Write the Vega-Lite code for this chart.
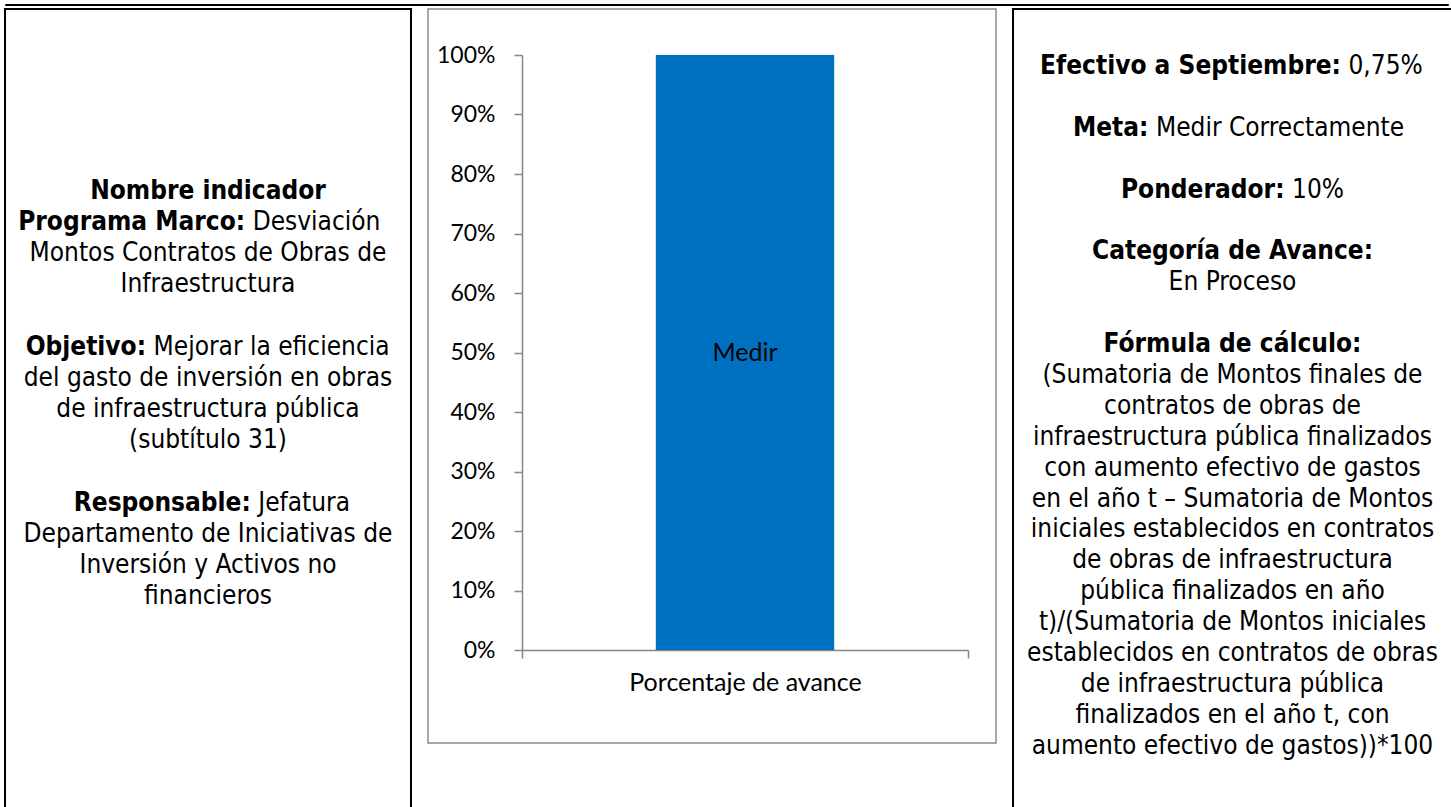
{
  "$schema": "https://vega.github.io/schema/vega-lite/v6.json",
  "padding": {"left": 4, "top": 1, "right": 4, "bottom": 0},
  "background": "white",
  "config": {"view": {"stroke": null}},
  "spacing": 0,
  "vconcat": [
    {
      "width": 1443,
      "height": 1,
      "view": {"stroke": "black", "strokeWidth": 1},
      "data": {"values": [{"k": 1}]},
      "mark": {"type": "point", "opacity": 0}
    },
    {
      "spacing": 15,
      "hconcat": [
        {
          "width": 406,
          "height": 804,
          "view": {"stroke": "black", "strokeWidth": 2},
          "data": {
            "values": [
              {"line": 0, "b": "Nombre indicador", "r": ""},
              {"line": 1, "b": "Programa Marco:", "r": "Desviación"},
              {"line": 2, "b": "", "r": "Montos Contratos de Obras de"},
              {"line": 3, "b": "", "r": "Infraestructura"},
              {"line": 5, "b": "Objetivo:", "r": "Mejorar la eficiencia"},
              {"line": 6, "b": "", "r": "del gasto de inversión en obras"},
              {"line": 7, "b": "", "r": "de infraestructura pública"},
              {"line": 8, "b": "", "r": "(subtítulo 31)"},
              {"line": 10, "b": "Responsable:", "r": "Jefatura"},
              {"line": 11, "b": "", "r": "Departamento de Iniciativas de"},
              {"line": 12, "b": "", "r": "Inversión y Activos no"},
              {"line": 13, "b": "", "r": "financieros"}
            ]
          },
          "transform": [
            {"calculate": "17.2*(0.5*length(datum.b) + 0.5*length(replace(datum.b, regexp('[ilfjtr:,.() ]','g'), '')))", "as": "wb"},
            {"calculate": "14.8*(0.5*length(datum.r) + 0.5*length(replace(datum.r, regexp('[ilfjtr:,.() ]','g'), ''))) + 2.5*(length(datum.r) - length(replace(datum.r, regexp('[0-9%]','g'), '')))", "as": "wr"},
            {"calculate": "(datum.wb - datum.wr - 7.5)/2", "as": "bx"},
            {"calculate": "datum.bx + 7.5", "as": "rx"}
          ],
          "encoding": {
            "y": {"field": "line", "type": "quantitative", "scale": {"domain": [-5.843, 19.968], "reverse": true}, "axis": null}
          },
          "layer": [
            {
              "transform": [{"filter": "datum.r === ''"}],
              "mark": {"type": "text", "font": "DejaVu Sans Condensed, DejaVu Sans", "fontSize": 26, "fontWeight": "bold", "color": "black", "align": "center", "baseline": "middle"},
              "encoding": {"x": {"datum": 0, "type": "quantitative", "scale": {"domain": [-203, 203]}, "axis": null}, "text": {"field": "b"}}
            },
            {
              "transform": [{"filter": "datum.b === ''"}],
              "mark": {"type": "text", "font": "DejaVu Sans Condensed, DejaVu Sans", "fontSize": 26, "color": "black", "align": "center", "baseline": "middle"},
              "encoding": {"x": {"datum": 0, "type": "quantitative", "scale": {"domain": [-203, 203]}, "axis": null}, "text": {"field": "r"}}
            },
            {
              "transform": [{"filter": "datum.b !== '' && datum.r !== ''"}],
              "mark": {"type": "text", "font": "DejaVu Sans Condensed, DejaVu Sans", "fontSize": 26, "fontWeight": "bold", "color": "black", "align": "right", "baseline": "middle"},
              "encoding": {"x": {"field": "bx", "type": "quantitative", "scale": {"domain": [-203, 203]}, "axis": null}, "text": {"field": "b"}}
            },
            {
              "transform": [{"filter": "datum.b !== '' && datum.r !== ''"}],
              "mark": {"type": "text", "font": "DejaVu Sans Condensed, DejaVu Sans", "fontSize": 26, "color": "black", "align": "left", "baseline": "middle"},
              "encoding": {"x": {"field": "rx", "type": "quantitative", "scale": {"domain": [-203, 203]}, "axis": null}, "text": {"field": "r"}}
            }
          ]
        },
        {
          "width": 568,
          "height": 734,
          "view": {"stroke": "#8c8c8c", "strokeWidth": 1.5},
          "data": {"values": [{"cat": "Porcentaje de avance", "value": 1, "label": "Medir"}]},
          "transform": [{"calculate": "datum.value / 2", "as": "mid"}],
          "encoding": {
            "x": {
              "field": "cat",
              "type": "nominal",
              "scale": {"range": [94, 540], "paddingInner": 0, "paddingOuter": 0},
              "axis": {
                "orient": "bottom",
                "offset": -93,
                "title": null,
                "tickBand": "extent",
                "labelAngle": 0,
                "labelFont": "Lato",
                "labelFontSize": 25,
                "labelColor": "black",
                "labelPadding": 12,
                "labelLimit": 500,
                "domainColor": "#868686",
                "domainWidth": 1.5,
                "tickColor": "#868686",
                "tickWidth": 1.5,
                "tickSize": 8
              }
            }
          },
          "layer": [
            {
              "mark": {"type": "bar", "color": "#0070C0", "width": {"band": 0.4}},
              "encoding": {
                "y": {
                  "field": "value",
                  "type": "quantitative",
                  "scale": {"domain": [0, 1], "range": [641, 46]},
                  "axis": {
                    "orient": "left",
                    "offset": -94,
                    "title": null,
                    "grid": false,
                    "values": [0, 0.1, 0.2, 0.3, 0.4, 0.5, 0.6, 0.7, 0.8, 0.9, 1],
                    "format": ".0%",
                    "labelFont": "Lato",
                    "labelFontSize": 23,
                    "labelColor": "black",
                    "labelPadding": 19,
                    "domainColor": "#868686",
                    "domainWidth": 1.5,
                    "tickColor": "#868686",
                    "tickWidth": 1.5,
                    "tickSize": 8
                  }
                }
              }
            },
            {
              "mark": {"type": "text", "font": "Lato", "fontSize": 25, "color": "black", "baseline": "middle", "align": "center"},
              "encoding": {
                "y": {"field": "mid", "type": "quantitative"},
                "text": {"field": "label"}
              }
            }
          ]
        },
        {
          "width": 439,
          "height": 804,
          "view": {"stroke": "black", "strokeWidth": 2},
          "data": {
            "values": [
              {"line": 0, "b": "Efectivo a Septiembre:", "r": "0,75%"},
              {"line": 2, "b": "Meta:", "r": "Medir Correctamente"},
              {"line": 4, "b": "Ponderador:", "r": "10%"},
              {"line": 6, "b": "Categoría de Avance:", "r": ""},
              {"line": 7, "b": "", "r": "En Proceso"},
              {"line": 9, "b": "Fórmula de cálculo:", "r": ""},
              {"line": 10, "b": "", "r": "(Sumatoria de Montos finales de"},
              {"line": 11, "b": "", "r": "contratos de obras de"},
              {"line": 12, "b": "", "r": "infraestructura pública finalizados"},
              {"line": 13, "b": "", "r": "con aumento efectivo de gastos"},
              {"line": 14, "b": "", "r": "en el año t – Sumatoria de Montos"},
              {"line": 15, "b": "", "r": "iniciales establecidos en contratos"},
              {"line": 16, "b": "", "r": "de obras de infraestructura"},
              {"line": 17, "b": "", "r": "pública finalizados en año"},
              {"line": 18, "b": "", "r": "t)/(Sumatoria de Montos iniciales"},
              {"line": 19, "b": "", "r": "establecidos en contratos de obras"},
              {"line": 20, "b": "", "r": "de infraestructura pública"},
              {"line": 21, "b": "", "r": "finalizados en el año t, con"},
              {"line": 22, "b": "", "r": "aumento efectivo de gastos))*100"}
            ]
          },
          "transform": [
            {"calculate": "17.2*(0.5*length(datum.b) + 0.5*length(replace(datum.b, regexp('[ilfjtr:,.() ]','g'), '')))", "as": "wb"},
            {"calculate": "14.8*(0.5*length(datum.r) + 0.5*length(replace(datum.r, regexp('[ilfjtr:,.() ]','g'), ''))) + 2.5*(length(datum.r) - length(replace(datum.r, regexp('[0-9%]','g'), '')))", "as": "wr"},
            {"calculate": "(datum.wb - datum.wr - 7.5)/2", "as": "bx"},
            {"calculate": "datum.bx + 7.5", "as": "rx"}
          ],
          "encoding": {
            "y": {"field": "line", "type": "quantitative", "scale": {"domain": [-1.845, 24.175], "reverse": true}, "axis": null}
          },
          "layer": [
            {
              "transform": [{"filter": "datum.r === ''"}],
              "mark": {"type": "text", "font": "DejaVu Sans Condensed, DejaVu Sans", "fontSize": 26, "fontWeight": "bold", "color": "black", "align": "center", "baseline": "middle"},
              "encoding": {"x": {"datum": 0, "type": "quantitative", "scale": {"domain": [-219.5, 219.5]}, "axis": null}, "text": {"field": "b"}}
            },
            {
              "transform": [{"filter": "datum.b === ''"}],
              "mark": {"type": "text", "font": "DejaVu Sans Condensed, DejaVu Sans", "fontSize": 26, "color": "black", "align": "center", "baseline": "middle"},
              "encoding": {"x": {"datum": 0, "type": "quantitative", "scale": {"domain": [-219.5, 219.5]}, "axis": null}, "text": {"field": "r"}}
            },
            {
              "transform": [{"filter": "datum.b !== '' && datum.r !== ''"}],
              "mark": {"type": "text", "font": "DejaVu Sans Condensed, DejaVu Sans", "fontSize": 26, "fontWeight": "bold", "color": "black", "align": "right", "baseline": "middle"},
              "encoding": {"x": {"field": "bx", "type": "quantitative", "scale": {"domain": [-219.5, 219.5]}, "axis": null}, "text": {"field": "b"}}
            },
            {
              "transform": [{"filter": "datum.b !== '' && datum.r !== ''"}],
              "mark": {"type": "text", "font": "DejaVu Sans Condensed, DejaVu Sans", "fontSize": 26, "color": "black", "align": "left", "baseline": "middle"},
              "encoding": {"x": {"field": "rx", "type": "quantitative", "scale": {"domain": [-219.5, 219.5]}, "axis": null}, "text": {"field": "r"}}
            }
          ]
        }
      ]
    }
  ]
}
